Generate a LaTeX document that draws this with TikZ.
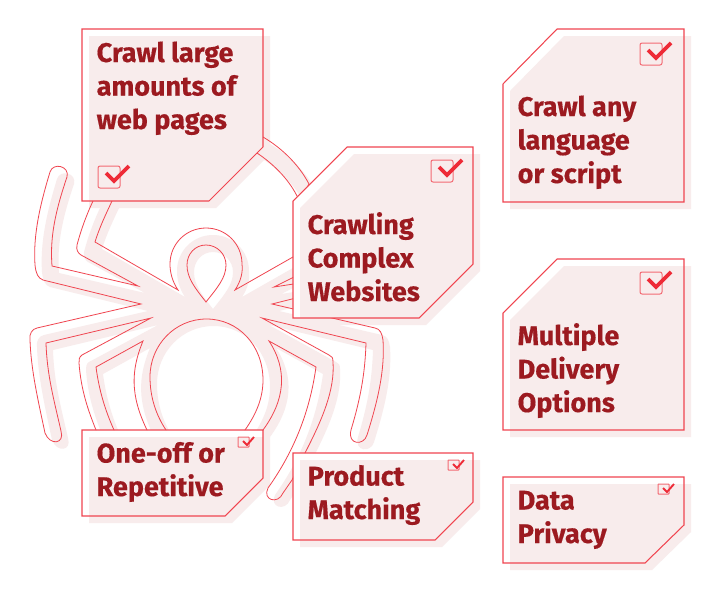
\documentclass[tikz,border=0pt]{standalone}
\usepackage{fontspec}
\setmainfont[BoldFeatures={FakeBold=0.4}]{Fira Sans}
\definecolor{blush}{HTML}{F8ECEC}
\definecolor{redline}{HTML}{F04550}
\definecolor{redtext}{HTML}{9C1A20}
\definecolor{redcheck}{HTML}{EE2B37}
\newcommand{\cardA}{(82,29) -- (263,29) -- (263,147) -- (209,201) -- (82,201) -- cycle}
\newcommand{\cardB}{(293,201) -- (347,147) -- (473,147) -- (473,264) -- (419,318) -- (293,318) -- cycle}
\newcommand{\cardC}{(503,84) -- (557,29) -- (684,29) -- (684,202) -- (503,202) -- cycle}
\newcommand{\cardD}{(503,313) -- (557,259) -- (684,259) -- (684,430) -- (503,430) -- cycle}
\newcommand{\cardE}{(82,430) -- (263,430) -- (263,478) -- (225,516) -- (82,516) -- cycle}
\newcommand{\cardF}{(293,453) -- (473,453) -- (473,502) -- (435,540) -- (293,540) -- cycle}
\newcommand{\cardG}{(503,477) -- (684,477) -- (684,525) -- (645,563) -- (503,563) -- cycle}
\newcommand{\spiderMain}{(178,290) -- (95,242) .. controls (100,226) and (106,214) .. (112,201) -- (112,195) -- (93,195) -- (93,201)
 .. controls (86,216) and (81,230) .. (77,245) .. controls (76,250) and (78,253) .. (81,255) -- (138,286) -- (52,266)
 .. controls (50,240) and (54,215) .. (67,177) .. controls (70,166) and (53,162) .. (50,172)
 .. controls (40,205) and (33,235) .. (35,265) .. controls (36,274) and (38,278) .. (43,280) -- (141,304) -- (37,328)
 .. controls (32,329) and (29,334) .. (30,340) .. controls (31,370) and (38,400) .. (45,433)
 .. controls (50,446) and (65,444) .. (61,431) .. controls (54,400) and (47,375) .. (46,343) -- (151,318) -- (82,355)
 .. controls (79,357) and (79,360) .. (79,363) .. controls (81,390) and (88,410) .. (96,430) -- (100,440) -- (118,440) -- (114,430)
 .. controls (105,410) and (99,390) .. (96,367) -- (143,341) .. controls (131,370) and (130,395) .. (147,430) -- (150,438) -- (172,438) -- (166,430)
 .. controls (156,415) and (150,397) .. (150,377) .. controls (150,345) and (175,319) .. (206.5,319)
 .. controls (238,319) and (263,345) .. (263,380) .. controls (263,397) and (257,413) .. (245,430) -- (240,438) -- (258,438) -- (263,430)
 .. controls (285,400) and (288,370) .. (269,341) -- (316,367) .. controls (310,410) and (295,450) .. (268,488)
 .. controls (262,500) and (278,505) .. (283,493) -- (292,480) -- (305,453)
 .. controls (322,420) and (335,390) .. (333,362) .. controls (333,358) and (332,356) .. (329,355) -- (262,318) -- (366,343)
 .. controls (365,375) and (360,400) .. (351,430) .. controls (347,445) and (364,446) .. (367,435)
 .. controls (378,400) and (385,370) .. (383,340) .. controls (382,333) and (380,329) .. (375,328) -- (272,304) -- (300,297) -- (300,283) -- (274,287) -- (300,274) -- (300,253) -- (235,290)
 .. controls (241,281) and (243,272) .. (242,264) .. controls (242,244) and (226,228) .. (206,228)
 .. controls (186,228) and (170,244) .. (170,264) .. controls (170,272) and (172,281) .. (178,290) -- cycle}
\newcommand{\spiderDrop}{(206,302) .. controls (195,288) and (187,278) .. (187,265) .. controls (187,254) and (195,245) .. (206,245)
 .. controls (217,245) and (226,254) .. (226,265) .. controls (226,278) and (217,288) .. (206,302) -- cycle}
\newcommand{\spiderArc}{(263,137) .. controls (280,147) and (298,163) .. (309,184) -- (300,200) -- (297,196) .. controls (288,178) and (272,163) .. (257,153) -- (250,145) -- cycle}
\newcommand{\bigtick}[2]{%
  \draw[tickbox] (#1,#2) rectangle ++(22,22);
  \draw[tickmark,line width=3.8pt] (#1+8,#2+7) -- (#1+16,#2+15) -- (#1+31,#2);}
\newcommand{\smalltick}[2]{%
  \draw[tickbox,rounded corners=0.6pt] (#1,#2) rectangle ++(11,10);
  \draw[tickmark,line width=1.9pt] (#1+5,#2+4) -- (#1+9,#2+8) -- (#1+16,#2);}
\tikzset{
  shade card/.style={fill=blush,shift={(7,7)}},
  card line/.style={draw=redline,line width=1.05pt,line join=miter},
  spider line/.style={draw=redline,line width=0.8pt,line join=miter},
  tickbox/.style={draw=redline!80,line width=1pt,rounded corners=2pt},
  tickmark/.style={draw=redcheck,line cap=butt,line join=miter},
  lbl/.style={anchor=base west,inner sep=0pt,align=left,text=redtext,
    font=\fontsize{27}{33.5}\selectfont\bfseries},
}
\begin{document}
\begin{tikzpicture}[x=1pt,y=-1pt]
\useasboundingbox (0,0) rectangle (720,600);
\fill[white] (0,0) rectangle (720,600);
% spider shadow
\fill[blush,even odd rule,shift={(7,7)}] \spiderMain \spiderDrop;
\fill[blush,shift={(7,7)}] \spiderArc;
% cards: white base then offset tint
\fill[white] \cardA; \fill[white] \cardB; \fill[white] \cardC; \fill[white] \cardD;
\fill[white] \cardE; \fill[white] \cardF; \fill[white] \cardG;
\fill[shade card] \cardA; \fill[shade card] \cardB; \fill[shade card] \cardC; \fill[shade card] \cardD;
\fill[shade card] \cardE; \fill[shade card] \cardF; \fill[shade card] \cardG;
% spider outline, hidden inside the cards
\begin{scope}[even odd rule]
  \clip (0,0) rectangle (720,600) \cardA \cardB \cardC \cardD \cardE \cardF \cardG;
  \draw[spider line] \spiderMain;
  \draw[spider line] \spiderDrop;
  \draw[spider line] \spiderArc;
\end{scope}
% card outlines
\draw[card line] \cardA; \draw[card line] \cardB; \draw[card line] \cardC; \draw[card line] \cardD;
\draw[card line] \cardE; \draw[card line] \cardF; \draw[card line] \cardG;
% ticks
\bigtick{98}{166}
\bigtick{431}{160}
\bigtick{640}{43}
\bigtick{640}{272}
\smalltick{238}{437}
\smalltick{448}{460}
\smalltick{658}{484}
% labels
\node[lbl] (crawllarge) at (96.5,129) {Crawl large\\amounts of\\web pages};
\node[lbl] (complex) at (307.5,301) {Crawling\\Complex\\Websites};
\node[lbl] (script) at (517.5,183) {Crawl any\\language\\or script};
\node[lbl] (delivery) at (517.5,412) {Multiple\\Delivery\\Options};
\node[lbl] (oneoff) at (96.5,496) {One-off or\\Repetitive};
\node[lbl] (matching) at (307.5,519) {Product\\Matching};
\node[lbl] (privacy) at (517.5,543) {Data\\Privacy};
\end{tikzpicture}
\end{document}
